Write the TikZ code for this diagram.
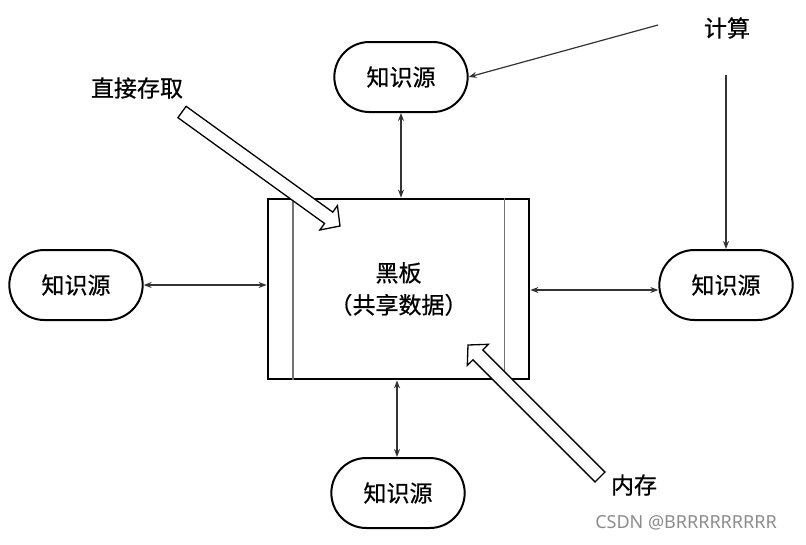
\documentclass[tikz,border=0pt]{standalone}
\usepackage{fontspec}
\setmainfont{Noto Sans}
\newfontfamily\cjk[FakeBold=0.7]{Noto Sans CJK SC}
\usetikzlibrary{shapes.misc,calc,arrows.meta}

\newcommand\hollowarrow[2]{%
  \coordinate (#1h) at ($(#2)!14pt!(#1)$);
  \draw[hollow] ($(#1)!7pt!90:(#2)$) -- ($(#1h)!7pt!-90:(#1)$) -- ($(#1h)!15pt!-90:(#1)$)
    -- (#2) -- ($(#1h)!15pt!90:(#1)$) -- ($(#1h)!7pt!90:(#1)$) -- ($(#1)!7pt!-90:(#2)$) -- cycle;
}

\begin{document}
\begin{tikzpicture}[x=1pt, y=-1pt,
  know/.style={draw, rounded rectangle, line width=2pt, minimum width=140pt, minimum height=70pt,
    font=\cjk\fontsize{23}{26}\selectfont},
  board/.style={draw, line width=2.8pt, minimum width=261pt, minimum height=180pt, align=center,
    font=\cjk\fontsize{23}{32}\selectfont},
  tag/.style={font=\cjk\fontsize{23}{26}\selectfont},
  link/.style={{Stealth[length=8pt,width=6pt]}-{Stealth[length=8pt,width=6pt]}, line width=1.2pt, black!80},
  feed/.style={-{Stealth[length=8pt,width=6pt]}, line width=1.2pt, black!80},
  hollow/.style={fill=white, line width=1.3pt, line join=miter}]
  \useasboundingbox (0,0) rectangle (806,544);

  \node[board] (bb) at (398.5,289) {黑板\\（共享数据）};
  \draw[black!55, line width=1.8pt] ([xshift=26pt]bb.north west) -- ([xshift=26pt]bb.south west);
  \draw[black!55, line width=1.8pt] ([xshift=-26pt]bb.north east) -- ([xshift=-26pt]bb.south east);

  \node[know] (ks1) at (401,77) {知识源};
  \node[know] (ks2) at (76,285) {知识源};
  \node[know] (ks3) at (726,285) {知识源};
  \node[know] (ks4) at (398,493) {知识源};

  \draw[link] (ks1.south) -- (ks1.south |- bb.north);
  \draw[link] (ks2.east) -- (ks2.east -| bb.west);
  \draw[link] (bb.east |- 0,290) -- (ks3.west |- 0,290);
  \draw[link] (bb.south -| 397,0) -- (ks4.north -| 397,0);

  \node[tag] (calc) at (727,28) {计算};
  \coordinate (c1) at (658,25);
  \coordinate (c2) at (726,75);
  \draw[feed] (c1) -- (ks1.east);
  \draw[feed] (c2) -- (c2 |- ks3.north);

  \node[tag] (direct) at (137,88) {直接存取};
  \node[tag] (memory) at (634,485) {内存};
  \coordinate (d1) at (182,112);
  \coordinate (d2) at (340,226);
  \coordinate (m1) at (600,477);
  \coordinate (m2) at (468,345);
  \hollowarrow{d1}{d2}
  \hollowarrow{m1}{m2}

  \node[text=black!45, font=\fontsize{18}{20}\selectfont] (mark) at (686,523) {CSDN @BRRRRRRRRR};
\end{tikzpicture}
\end{document}
